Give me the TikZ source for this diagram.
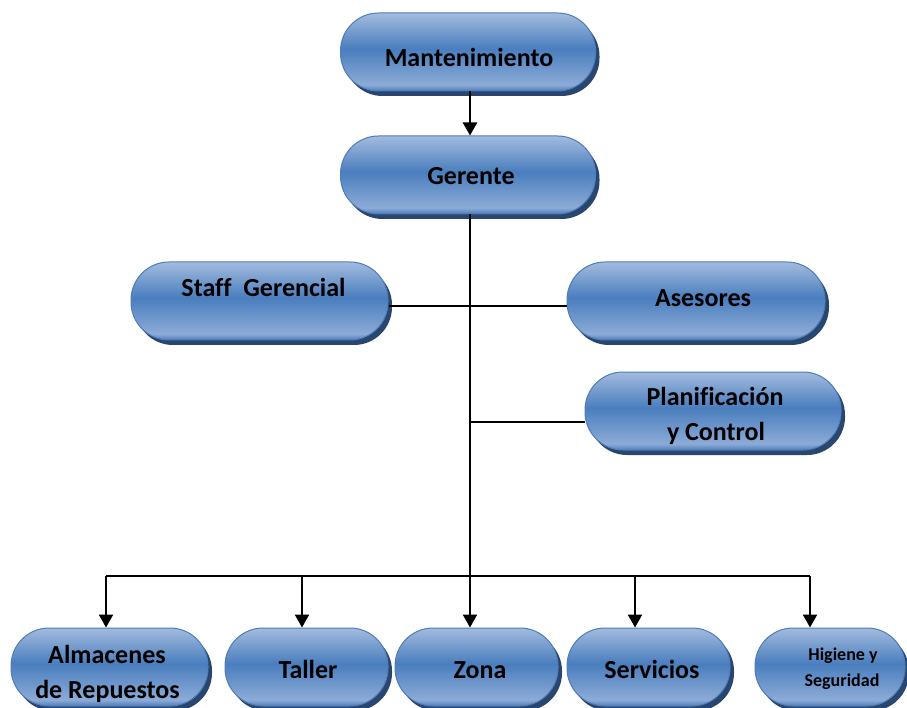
\documentclass[tikz,border=0pt]{standalone}
\usepackage{fontspec}
\setmainfont{Carlito}[Ligatures=CommonOff]
\usetikzlibrary{arrows.meta}

\definecolor{pillTop}{HTML}{A2BBDE}
\definecolor{pillMid}{HTML}{4A7EBE}
\definecolor{pillLow}{HTML}{8CABD7}
\definecolor{pillEdge}{HTML}{4F7DB9}
\definecolor{pillShadow}{HTML}{29466F}

% light top, saturated middle, a pale glare just above the bottom edge
\pgfdeclareverticalshading{pill}{100bp}{%
  color(0bp)=(pillEdge); color(25bp)=(pillEdge); color(29bp)=(pillLow);
  color(52bp)=(pillMid); color(75bp)=(pillTop); color(100bp)=(pillTop)}

\tikzset{
  pill/.style={rectangle, rounded corners=38pt, shading=pill, draw=pillEdge,
    line width=1pt, inner sep=0pt, minimum height=78pt,
    preaction={fill=pillShadow, transform canvas={xshift=4pt, yshift=-5pt}}},
  lbl/.style={anchor=base, font=\bfseries\fontsize{26}{35}\selectfont, inner sep=0pt},
  lblsmall/.style={anchor=base, font=\bfseries\fontsize{18}{25}\selectfont, inner sep=0pt},
  link/.style={line width=2.4pt, draw=black},
  arrow/.style={link, -{Triangle[width=14pt,length=13pt]}},
}

\begin{document}
\begin{tikzpicture}[x=1pt, y=-1pt]
  \useasboundingbox (0,0) rectangle (907,708);
  \clip (0,0) rectangle (907,708);
  \fill[white] (0,0) rectangle (907,708);

  % boxes
  \node[pill, minimum width=255pt] (mant)  at (468,52)  {};
  \node[pill, minimum width=255pt] (ger)   at (468,175) {};
  \node[pill, minimum width=257pt] (staff) at (259.5,301) {};
  \node[pill, minimum width=258pt] (ases)  at (696,301) {};
  \node[pill, minimum width=256pt] (plan)  at (713,411) {};
  \node[pill, minimum width=197pt] (alm)   at (109.5,667) {};
  \node[pill, minimum width=163pt] (tall)  at (306.5,667) {};
  \node[pill, minimum width=163pt] (zona)  at (476.5,667) {};
  \node[pill, minimum width=163pt] (serv)  at (648.5,667) {};
  \node[pill, minimum width=150pt] (hig)   at (830,667) {};

  % labels
  \node[lbl] (tmant)  at (469,67)  {Mantenimiento};
  \node[lbl] (tger)   at (471,185) {Gerente};
  \node[lbl] (tstaff) at (263.5,297) {Staff\ \ Gerencial};
  \node[lbl] (tases)  at (703,307) {Asesores};
  \node[lbl] (tplan1) at (715,405) {Planificación};
  \node[lbl] (tplan2) at (716,440) {y Control};
  \node[lbl] (talm1)  at (107,663) {Almacenes};
  \node[lbl] (talm2)  at (107.5,698) {de Repuestos};
  \node[lbl] (ttall)  at (308,678) {Taller};
  \node[lbl] (tzona)  at (480,678) {Zona};
  \node[lbl] (tserv)  at (652,678) {Servicios};
  \node[lblsmall] (thig1) at (843,660) {Higiene y};
  \node[lblsmall] (thig2) at (842,686) {Seguridad};

  % junction points on the trunk and the bottom bus
  \coordinate (trunk) at (470,0);
  \coordinate (jside) at (470,306);
  \coordinate (jplan) at (470,422);
  \coordinate (bus)   at (470,576);
  \coordinate (balm)  at (106,576);
  \coordinate (btall) at (302,576);
  \coordinate (bserv) at (635,576);
  \coordinate (bhig)  at (810,576);

  % connectors
  \draw[arrow] (trunk |- mant.south) -- (trunk |- ger.north);
  \draw[link] (trunk |- ger.south) -- (bus);
  \draw[link] (staff.east |- jside) -- (ases.west |- jside);
  \draw[link] (jplan) -- (plan.west |- jplan);
  \draw[link] (balm) -- (bhig);
  \draw[arrow] (balm)  -- (balm |- alm.north);
  \draw[arrow] (btall) -- (btall |- tall.north);
  \draw[arrow] (bus)   -- (bus |- zona.north);
  \draw[arrow] (bserv) -- (bserv |- serv.north);
  \draw[arrow] (bhig)  -- (bhig |- hig.north);
\end{tikzpicture}
\end{document}
